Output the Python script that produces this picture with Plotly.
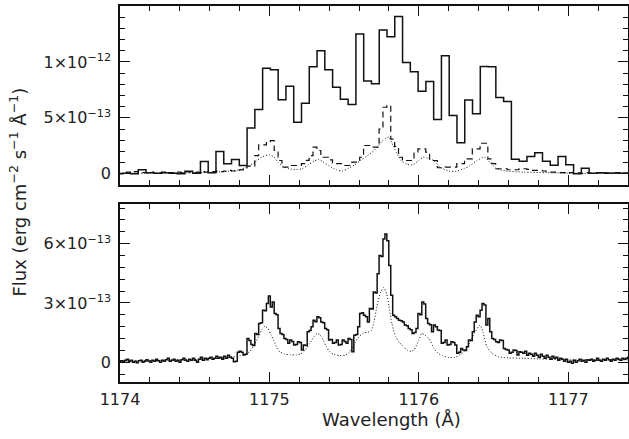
import numpy as np
import plotly.graph_objects as go
from plotly.subplots import make_subplots

# Flux values are in units of 1e-13 erg cm^-2 s^-1 Å^-1

# --- top panel: coarse-binned observed spectrum (solid histogram)
coarse_start = 1173.966   # Å, left edge of first bin
coarse_bin = 0.05203      # Å
flux_coarse = [
    0.0, 0.05, 0.0, 0.36, 0.1, 0.05, 0.1, 0.05, 0.0, 0.23,
    0.05, 1.1, 0.1, 2.0, 0.9, 1.28, 0.74, 4.1, 5.74, 9.43,
    9.29, 6.63, 7.82, 4.61, 6.3, 9.58, 11.0, 9.31, 7.73, 6.66,
    6.19, 12.5, 8.3, 8.04, 12.86, 12.26, 14.07, 9.96, 9.13, 7.38,
    8.24, 4.85, 10.56, 5.2, 2.77, 6.6, 5.36, 9.6, 9.58, 6.81,
    6.46, 1.3, 1.12, 1.54, 1.87, 1.12, 0.77, 1.54, 0.8, 0.0,
    0.5, 0.05, 0.1, 0.05, 0.08, 0.05,
]

# --- top panel: dashed histogram (model, binned)
dash_start = 1173.966
dash_bin = 0.026
flux_dashed = [
    0.1, 0.05, 0.1, 0.15, 0.1, 0.2, 0.15, 0.1, 0.1, 0.15,
    0.05, 0.1, 0.15, 0.1, 0.1, 0.05, 0.15, 0.1, 0.2, 0.15,
    0.1, 0.15, 0.2, 0.15, 0.2, 0.2, 0.25, 0.2, 0.25, 0.3,
    0.25, 0.3, 0.35, 0.4, 0.68, 0.68, 1.63, 2.59, 2.59, 2.88,
    2.97, 2.08, 1.19, 0.6, 0.6, 0.74, 0.74, 0.74, 0.9, 1.2,
    1.63, 2.38, 2.08, 1.48, 1.48, 1.25, 0.9, 0.9, 0.9, 0.74,
    0.74, 1.04, 1.04, 1.48, 2.53, 2.53, 2.38, 2.38, 4.0, 5.95,
    6.1, 3.1, 2.45, 1.48, 1.19, 1.19, 1.19, 1.93, 2.23, 2.23,
    1.93, 1.19, 1.19, 0.54, 0.54, 0.6, 0.6, 0.6, 0.9, 0.9,
    1.34, 1.34, 2.23, 2.23, 2.73, 2.73, 1.34, 0.9, 0.45, 0.45,
    0.45, 0.36, 0.36, 0.36, 0.45, 0.45, 0.4, 0.3, 0.3, 0.3,
    0.25, 0.15, 0.15, 0.15, 0.1, 0.1, 0.05, 0.1, 0.05, 0.08,
    0.05, 0.1, 0.05, 0.05, 0.1, 0.05, 0.08, 0.05, 0.05, 0.1,
    0.05, 0.08, 0.05, 0.05,
]

# --- top panel: dotted model
model_top_wave = [
    1174.00, 1174.20, 1174.40, 1174.60, 1174.70, 1174.78, 1174.85, 1174.90, 1174.95, 1175.00,
    1175.03, 1175.06, 1175.09, 1175.13, 1175.18, 1175.22, 1175.26, 1175.30, 1175.33, 1175.36,
    1175.40, 1175.45, 1175.49, 1175.53, 1175.57, 1175.61, 1175.65, 1175.70, 1175.75, 1175.78,
    1175.80, 1175.82, 1175.85, 1175.88, 1175.92, 1175.96, 1176.00, 1176.03, 1176.06, 1176.10,
    1176.14, 1176.20, 1176.25, 1176.30, 1176.34, 1176.39, 1176.44, 1176.48, 1176.52, 1176.58,
    1176.70, 1176.85, 1177.00, 1177.20, 1177.40,
]
model_top_flux = [
    0.03, 0.05, 0.08, 0.12, 0.2, 0.3, 0.6, 1.0, 1.5, 1.7,
    1.5, 1.0, 0.65, 0.45, 0.38, 0.45, 0.8, 1.15, 1.28, 1.05,
    0.7, 0.35, 0.25, 0.5, 0.8, 1.2, 1.55, 2.08, 2.85, 3.2,
    3.27, 2.75, 1.9, 1.2, 0.85, 0.8, 1.2, 1.48, 1.4, 1.19,
    0.6, 0.25, 0.22, 0.45, 0.7, 1.19, 1.48, 0.95, 0.45, 0.25,
    0.15, 0.1, 0.05, 0.03, 0.03,
]

# --- bottom panel: fine-binned observed spectrum (solid histogram)
fine_start = 1173.966
fine_bin = 0.013
flux_fine = [
    0.05, -0.05, 0.0, 0.08, 0.05, 0.1, 0.15, 0.05, 0.1, 0.0,
    0.05, -0.02, 0.08, 0.1, 0.0, 0.05, 0.12, 0.06, 0.0, 0.1,
    0.05, 0.15, 0.08, 0.0, 0.1, 0.05, 0.12, 0.2, 0.05, 0.1,
    0.15, 0.05, 0.1, 0.0, 0.12, 0.2, 0.1, 0.05, 0.15, 0.1,
    0.2, 0.1, 0.0, 0.15, 0.25, 0.1, 0.2, 0.12, 0.2, 0.25,
    0.15, 0.2, 0.3, 0.2, 0.25, 0.15, 0.3, 0.2, 0.35, 0.25,
    0.2, 0.03, 0.05, 0.5, 0.55, 0.5, 0.37, 0.4, 1.2, 1.1,
    0.9, 0.85, 1.46, 1.4, 1.96, 2.0, 2.63, 2.6, 2.97, 3.35,
    2.8, 3.05, 2.47, 2.4, 1.71, 1.46, 1.4, 1.2, 1.15, 0.96,
    1.12, 1.05, 0.87, 0.9, 1.04, 1.0, 0.62, 0.87, 0.85, 1.54,
    1.6, 1.79, 2.13, 2.05, 2.3, 2.25, 2.04, 2.0, 1.71, 1.65,
    1.12, 1.15, 0.96, 1.0, 1.12, 0.87, 0.9, 1.12, 1.05, 0.96,
    1.2, 1.15, 0.53, 1.37, 1.4, 1.79, 2.47, 2.5, 2.38, 2.3,
    2.04, 2.72, 2.7, 3.55, 3.5, 4.48, 5.4, 5.35, 6.24, 6.49,
    6.15, 4.9, 3.39, 2.38, 2.3, 2.21, 2.13, 2.1, 2.04, 1.88,
    1.85, 1.71, 1.65, 1.46, 1.5, 1.71, 2.47, 2.4, 3.05, 2.95,
    2.21, 1.96, 1.9, 1.54, 1.88, 1.8, 1.63, 1.6, 0.96, 1.0,
    1.12, 0.87, 0.9, 1.04, 1.0, 0.87, 0.45, 0.5, 0.7, 0.62,
    0.6, 0.79, 1.12, 1.1, 1.54, 2.04, 2.38, 2.3, 2.63, 2.97,
    2.9, 1.88, 2.21, 1.54, 1.2, 1.15, 1.04, 1.0, 1.12, 1.1,
    0.7, 0.65, 0.62, 0.45, 0.5, 0.62, 0.6, 0.37, 0.53, 0.5,
    0.45, 0.55, 0.35, 0.45, 0.4, 0.3, 0.45, 0.35, 0.25, 0.4,
    0.3, 0.2, 0.35, 0.25, 0.15, 0.3, 0.2, 0.25, 0.1, 0.2,
    0.15, 0.05, 0.15, 0.0, 0.05, -0.05, 0.1, 0.0, 0.08, 0.15,
    0.05, 0.1, 0.0, 0.12, 0.1, 0.15, 0.05, 0.1, 0.2, 0.1,
    0.05, 0.15, 0.1, 0.2, 0.12, 0.05, 0.15, 0.1, 0.2, 0.15,
    0.1, 0.2, 0.15, 0.2, 0.25, 0.2,
]

# --- bottom panel: dotted model
model_bot_wave = [
    1174.00, 1174.10, 1174.20, 1174.30, 1174.40, 1174.50, 1174.60, 1174.70, 1174.76, 1174.80,
    1174.84, 1174.87, 1174.90, 1174.93, 1174.95, 1174.97, 1174.99, 1175.01, 1175.03, 1175.05,
    1175.07, 1175.10, 1175.14, 1175.18, 1175.21, 1175.24, 1175.27, 1175.30, 1175.32, 1175.34,
    1175.36, 1175.38, 1175.40, 1175.43, 1175.47, 1175.51, 1175.54, 1175.57, 1175.60, 1175.63,
    1175.66, 1175.68, 1175.70, 1175.72, 1175.745, 1175.765, 1175.785, 1175.80, 1175.82, 1175.845,
    1175.87, 1175.89, 1175.92, 1175.95, 1175.97, 1176.00, 1176.02, 1176.04, 1176.07, 1176.10,
    1176.13, 1176.16, 1176.20, 1176.24, 1176.28, 1176.31, 1176.34, 1176.37, 1176.41, 1176.43,
    1176.455, 1176.49, 1176.53, 1176.60, 1176.70, 1176.80, 1176.90, 1177.00, 1177.20, 1177.40,
]
model_bot_flux = [
    0.05, 0.06, 0.08, 0.1, 0.12, 0.14, 0.17, 0.22, 0.28, 0.33,
    0.42, 0.55, 0.9, 1.35, 1.65, 1.82, 1.7, 1.4, 1.08, 0.72,
    0.52, 0.42, 0.38, 0.37, 0.42, 0.62, 0.95, 1.3, 1.46, 1.38,
    1.12, 0.8, 0.55, 0.4, 0.34, 0.36, 0.55, 0.95, 1.3, 1.48,
    1.52, 1.58, 2.04, 2.85, 3.55, 3.78, 3.45, 2.85, 1.95, 1.3,
    1.0, 0.85, 0.62, 0.55, 0.65, 1.12, 1.46, 1.38, 1.18, 0.72,
    0.45, 0.32, 0.24, 0.24, 0.4, 0.6, 1.0, 1.45, 1.88, 1.5,
    0.8, 0.45, 0.28, 0.22, 0.2, 0.17, 0.14, 0.12, 0.12, 0.12,
]

# axis tick labels
top_tickvals = [0, 5, 10]
top_ticktext = ["0", "5×10<sup>−13</sup>", "1×10<sup>−12</sup>"]
bot_tickvals = [0, 3, 6]
bot_ticktext = ["0", "3×10<sup>−13</sup>", "6×10<sup>−13</sup>"]
x_tickvals = [1174, 1175, 1176, 1177]
x_ticktext = ["1174", "1175", "1176", "1177"]


def centers(start, width, n):
    return start + width * (np.arange(n) + 0.5)


wave_coarse = centers(coarse_start, coarse_bin, len(flux_coarse))
wave_dashed = centers(dash_start, dash_bin, len(flux_dashed))
wave_fine = centers(fine_start, fine_bin, len(flux_fine))

fig = make_subplots(rows=2, cols=1, shared_xaxes=False, vertical_spacing=0.0)

INK = "#111111"
fig.add_trace(go.Scatter(x=wave_dashed, y=flux_dashed, mode="lines",
                         line=dict(color=INK, width=1.2, dash="6px,4px", shape="hvh")), row=1, col=1)
fig.add_trace(go.Scatter(x=model_top_wave, y=model_top_flux, mode="lines",
                         line=dict(color=INK, width=1.0, dash="1px,2px", shape="spline", smoothing=0.6)), row=1, col=1)
fig.add_trace(go.Scatter(x=wave_coarse, y=flux_coarse, mode="lines",
                         line=dict(color=INK, width=1.5, shape="hvh")), row=1, col=1)

fig.add_trace(go.Scatter(x=model_bot_wave, y=model_bot_flux, mode="lines",
                         line=dict(color=INK, width=1.0, dash="1px,2px", shape="spline", smoothing=0.6)), row=2, col=1)
fig.add_trace(go.Scatter(x=wave_fine, y=flux_fine, mode="lines",
                         line=dict(color=INK, width=1.5, shape="hvh")), row=2, col=1)

FONT = dict(family="DejaVu Sans", size=16, color="#222222")
TITLE_FONT = dict(family="DejaVu Sans", size=18, color="#222222")

common_x = dict(range=[1174, 1177.4], showline=True, linecolor=INK, linewidth=1.5,
                mirror="ticks", ticks="inside", ticklen=10, tickwidth=1, tickcolor=INK,
                tickvals=x_tickvals, ticktext=x_ticktext, showgrid=False, zeroline=False,
                minor=dict(tickmode="linear", tick0=1174, dtick=0.2, ticks="inside",
                           ticklen=5, tickcolor=INK, showgrid=False),
                tickfont=FONT, automargin=False)
fig.update_xaxes(**common_x)
fig.update_xaxes(showticklabels=False, row=1, col=1)
fig.update_xaxes(row=2, col=1, ticklabelstandoff=2)

fig.update_yaxes(showline=True, linecolor=INK, linewidth=1.5, mirror="ticks",
                 ticks="inside", ticklen=10, tickwidth=1, tickcolor=INK,
                 showgrid=False, zeroline=False, tickfont=FONT, ticklabelstandoff=4,
                 automargin=False)
fig.update_yaxes(range=[-1, 15], tickvals=top_tickvals, ticktext=top_ticktext,
                 minor=dict(tickmode="linear", tick0=0, dtick=1, ticks="inside", ticklen=5,
                            tickcolor=INK, showgrid=False),
                 domain=[0.524, 1.0], row=1, col=1)
fig.update_yaxes(range=[-1, 8], tickvals=bot_tickvals, ticktext=bot_ticktext,
                 minor=dict(tickmode="linear", tick0=0, dtick=0.6, ticks="inside", ticklen=5,
                            tickcolor=INK, showgrid=False),
                 domain=[0.0, 0.473], row=2, col=1)

fig.add_annotation(text="Flux (erg cm<sup>−2</sup> s<sup>−1</sup> Å<sup>−1</sup>)",
                   xref="paper", yref="paper", x=-0.2, y=0.505, textangle=-90,
                   showarrow=False, font=TITLE_FONT, xanchor="center", yanchor="middle")
fig.add_annotation(text="Wavelength (Å)", xref="paper", yref="paper", x=0.535, y=-0.1,
                   showarrow=False, font=TITLE_FONT, xanchor="center", yanchor="middle")

fig.update_layout(width=629, height=439, margin=dict(l=120, r=1, t=6, b=57),
                  paper_bgcolor="white", plot_bgcolor="white", showlegend=False,
                  hovermode=False)

fig.write_html("out.html", config={"displayModeBar": False},
               post_script="document.body.style.margin='0';document.body.style.overflow='hidden';")
